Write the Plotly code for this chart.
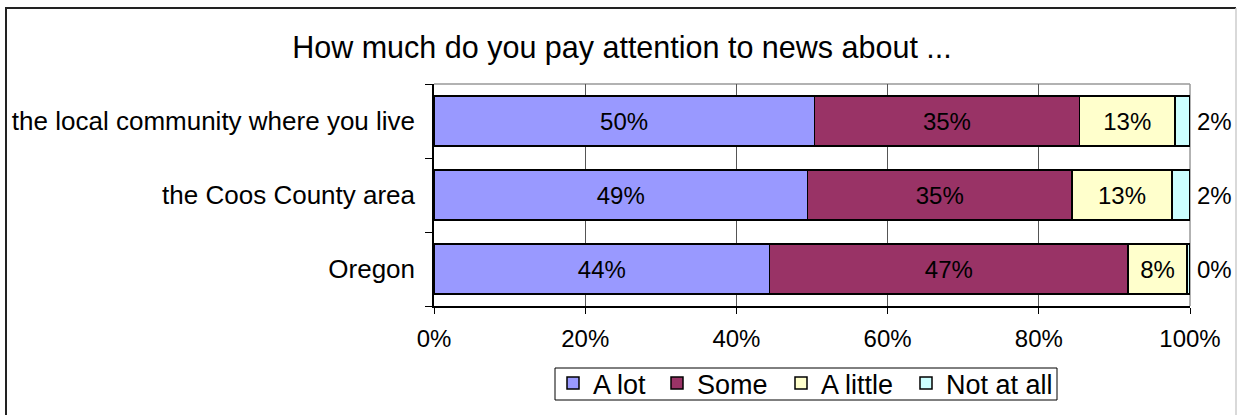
import plotly.graph_objects as go

categories = ["the local community where you live", "the Coos County area", "Oregon"]
series_names = ["A lot", "Some", "A little", "Not at all"]
a_lot = [50.3, 49.4, 44.4]
some = [35.1, 35.0, 47.4]
a_little = [12.6, 13.2, 7.8]
not_at_all = [2.0, 2.4, 0.4]
x_ticks = [0, 20, 40, 60, 80, 100]
x_tick_labels = ["0%", "20%", "40%", "60%", "80%", "100%"]
title_text = "How much do you pay attention to news about ..."

colors = ["#9999FF", "#993366", "#FFFFCC", "#CCFFFF"]
FONT = "Liberation Sans, Arial, sans-serif"

W, H = 1238, 415
L, R, T, B = 434, 48, 84, 109
pw, ph = W - L - R, H - T - B

def px(p):
    return (p - L) / pw

def py(p):
    return (H - B - p) / ph

legend_ids = ["legend", "legend2", "legend3", "legend4"]
legend_left_px = [553, 657, 781, 906]

series = [a_lot, some, a_little, not_at_all]
fig = go.Figure()
for i, (name, vals) in enumerate(zip(series_names, series)):
    last = i == 3
    fig.add_trace(go.Bar(
        y=categories, x=vals, name=name, orientation="h",
        marker=dict(color=colors[i], line=dict(color="black", width=1.5)),
        texttemplate="%{x:.0f}%",
        textposition="none" if last else "inside",
        insidetextanchor="middle",
        textangle=0,
        constraintext="none",
        textfont=dict(family=FONT, size=24, color="black"),
        legend=legend_ids[i],
    ))

# labels for the last segment, placed to the right of each stack end
totals = [sum(s[k] for s in series) for k in range(len(categories))]
annotations = [
    dict(x=t, y=c, xref="x", yref="y", text=f"{v:.0f}%", showarrow=False,
         xanchor="left", yanchor="middle", xshift=5,
         font=dict(family=FONT, size=24, color="black"))
    for c, t, v in zip(categories, totals, not_at_all)
]

legend_common = dict(orientation="h", xanchor="left", y=py(359), yanchor="top",
                     borderwidth=0, bgcolor="rgba(0,0,0,0)",
                     font=dict(family=FONT, size=27, color="black"), itemwidth=30)
legends = {lid: dict(legend_common, x=px(lx)) for lid, lx in zip(legend_ids, legend_left_px)}

fig.update_layout(
    width=W, height=H,
    margin=dict(l=L, r=R, t=T, b=B, autoexpand=False),
    barmode="stack", bargap=0.33,
    paper_bgcolor="white", plot_bgcolor="white",
    font=dict(family=FONT, size=24, color="black"),
    title=dict(text=title_text, x=px(622), xanchor="center", xref="paper",
               y=1 - 47 / H, yanchor="middle", yref="container",
               font=dict(family=FONT, size=30.5, color="black")),
    xaxis=dict(range=[0, 100], tickvals=x_ticks, ticktext=x_tick_labels,
               showgrid=True, gridcolor="#555555", gridwidth=1,
               showline=True, linecolor="black", linewidth=1.5,
               ticks="outside", ticklen=6, tickcolor="black",
               tickfont=dict(family=FONT, size=24, color="black"),
               ticklabelstandoff=4, zeroline=False, fixedrange=True),
    yaxis=dict(categoryorder="array", categoryarray=categories[::-1],
               tickson="boundaries", ticks="outside", ticklen=7, tickcolor="black",
               showline=True, linecolor="black", linewidth=1.5,
               showgrid=False,
               tickfont=dict(family=FONT, size=26, color="black"),
               ticklabelstandoff=12, fixedrange=True),
    showlegend=True,
    annotations=annotations,
    shapes=[
        dict(type="line", xref="paper", yref="paper", x0=0, x1=1, y0=1, y1=1,
             line=dict(color="#999999", width=1.5), layer="below"),
        dict(type="line", xref="paper", yref="paper", x0=1, x1=1, y0=0, y1=1,
             line=dict(color="#999999", width=1.5), layer="below"),
        dict(type="rect", xref="paper", yref="paper", x0=px(555), x1=px(1057), y0=py(368), y1=py(400),
             line=dict(color="black", width=1), layer="below"),
        dict(type="line", xref="paper", yref="paper", x0=px(6), x1=px(6), y0=py(8), y1=py(420),
             line=dict(color="#222222", width=2)),
        dict(type="line", xref="paper", yref="paper", x0=px(5), x1=px(1236), y0=py(8), y1=py(8),
             line=dict(color="#222222", width=2)),
        dict(type="line", xref="paper", yref="paper", x0=px(1236), x1=px(1236), y0=py(8), y1=py(420),
             line=dict(color="#cccccc", width=1.5)),
    ],
    **legends,
)

fig.write_html("out.html")
